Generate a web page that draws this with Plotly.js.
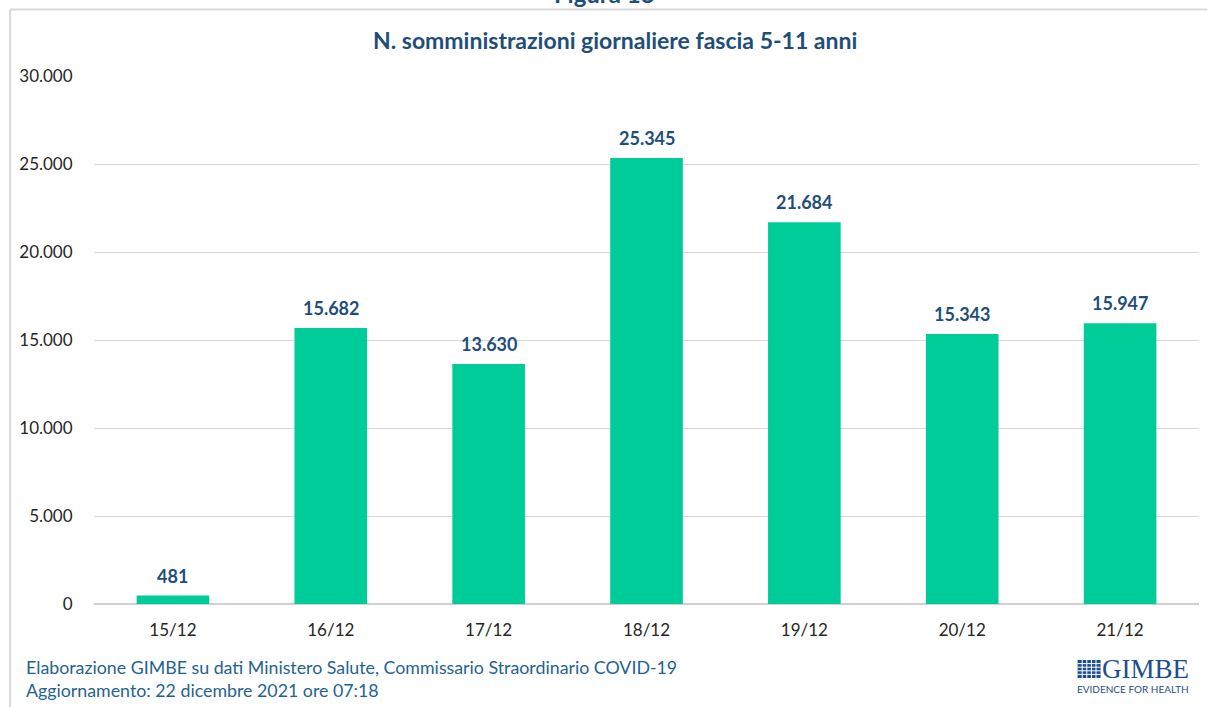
<!DOCTYPE html>
<html>
<head>
<meta charset="utf-8">
<script src="https://cdn.plot.ly/plotly-3.0.1.min.js"></script>
<style>html,body{margin:0;padding:0;background:#fff;}#chart{width:1208px;height:707px;}</style>
</head>
<body>
<div id="chart"></div>
<script>
const categories = ["15/12", "16/12", "17/12", "18/12", "19/12", "20/12", "21/12"];
const values = [481, 15682, 13630, 25345, 21684, 15343, 15947];
const yTicks = [0, 5000, 10000, 15000, 20000, 25000, 30000];

const W = 1208, H = 707;
const L = 93.5, R = 8.5, T = 76, B = 103;
const pw = W - L - R, ph = H - T - B;
const px = x => (x - L) / pw;
const py = y => 1 - (y - T) / ph;

const font = "Lato, 'Open Sans', 'DejaVu Sans', sans-serif";
const blue = "#1F4E79";
const logoBlue = "#1F4E8C";

const fmt = v => v.toString().replace(/\B(?=(\d{3})+(?!\d))/g, ".");

const trace = {
  type: "bar",
  x: categories,
  y: values,
  marker: { color: "#00CC99" },
  cliponaxis: false,
  hoverinfo: "skip"
};

const labelAnnotations = categories.map((c, i) => ({
  x: c, y: values[i], xref: "x", yref: "y",
  text: "<b>" + fmt(values[i]) + "</b>",
  showarrow: false, xanchor: "center", yanchor: "bottom", yshift: 7,
  font: { family: font, size: 18, color: blue }
}));

// logo grid lines
const logoShapes = [
  { type: "rect", xref: "paper", yref: "paper", x0: px(1078), x1: px(1101), y0: py(660), y1: py(678),
    fillcolor: logoBlue, line: { width: 0 } }
];
for (let k = 1; k < 5; k++) {
  const xx = 1078 + k * 23 / 5;
  logoShapes.push({ type: "line", xref: "paper", yref: "paper", x0: px(xx), x1: px(xx), y0: py(660), y1: py(678),
    line: { color: "#fff", width: 1 } });
  const yy = 660 + k * 18 / 5;
  logoShapes.push({ type: "line", xref: "paper", yref: "paper", x0: px(1078), x1: px(1101), y0: py(yy), y1: py(yy),
    line: { color: "#fff", width: 1 } });
}

const layout = {
  width: W, height: H,
  margin: { l: L, r: R, t: T, b: B, pad: 0 },
  paper_bgcolor: "#fff", plot_bgcolor: "#fff",
  separators: ",.",
  bargap: 0.54,
  showlegend: false,
  font: { family: font, color: "#404040" },
  xaxis: {
    type: "category",
    tickfont: { family: font, size: 17, color: "#262626" },
    ticks: "outside", ticklen: 11, tickcolor: "rgba(0,0,0,0)",
    showline: false, showgrid: false, zeroline: false
  },
  yaxis: {
    range: [0, 30000],
    tickvals: yTicks,
    tickformat: ",",
    tickfont: { family: font, size: 17, color: "#262626" },
    ticks: "outside", ticklen: 17, tickcolor: "rgba(0,0,0,0)",
    gridcolor: "#D9D9D9", gridwidth: 1,
    zeroline: true, zerolinecolor: "#D0D0D0", zerolinewidth: 2,
    showline: false
  },
  annotations: labelAnnotations.concat([
    { text: "<b>N. somministrazioni giornaliere fascia 5-11 anni</b>", xref: "paper", yref: "paper",
      x: px(615), y: py(40), xanchor: "center", yanchor: "middle", showarrow: false,
      font: { family: font, size: 23, color: blue } },
    { text: "<b>Figura 18</b>", xref: "paper", yref: "paper",
      x: px(604), y: py(10), xanchor: "center", yanchor: "bottom", showarrow: false,
      font: { family: font, size: 24, color: blue } },
    { text: "Elaborazione GIMBE su dati Ministero Salute, Commissario Straordinario COVID-19", xref: "paper", yref: "paper",
      x: px(23), y: py(667), xanchor: "left", yanchor: "middle", showarrow: false,
      font: { family: font, size: 17.8, color: "#1F6391" } },
    { text: "Aggiornamento: 22 dicembre 2021 ore 07:18", xref: "paper", yref: "paper",
      x: px(23), y: py(690), xanchor: "left", yanchor: "middle", showarrow: false,
      font: { family: font, size: 17.8, color: "#1F6391" } },
    { text: "GIMBE", xref: "paper", yref: "paper",
      x: px(1191), y: py(669), xanchor: "right", yanchor: "middle", showarrow: false,
      font: { family: "'Liberation Serif', 'DejaVu Serif', serif", size: 27, color: logoBlue } },
    { text: "EVIDENCE FOR HEALTH", xref: "paper", yref: "paper",
      x: px(1191), y: py(689), xanchor: "right", yanchor: "middle", showarrow: false,
      font: { family: font, size: 10, color: logoBlue } }
  ]),
  shapes: [
    { type: "line", xref: "paper", yref: "paper", x0: px(9.5), x1: px(1208), y0: py(9.5), y1: py(9.5),
      line: { color: "#D9D9D9", width: 2 } },
    { type: "line", xref: "paper", yref: "paper", x0: px(9.5), x1: px(9.5), y0: py(9.5), y1: py(707),
      line: { color: "#D9D9D9", width: 2 } }
  ].concat(logoShapes)
};

Plotly.newPlot("chart", [trace], layout, { displayModeBar: false, staticPlot: true });
</script>
</body>
</html>
